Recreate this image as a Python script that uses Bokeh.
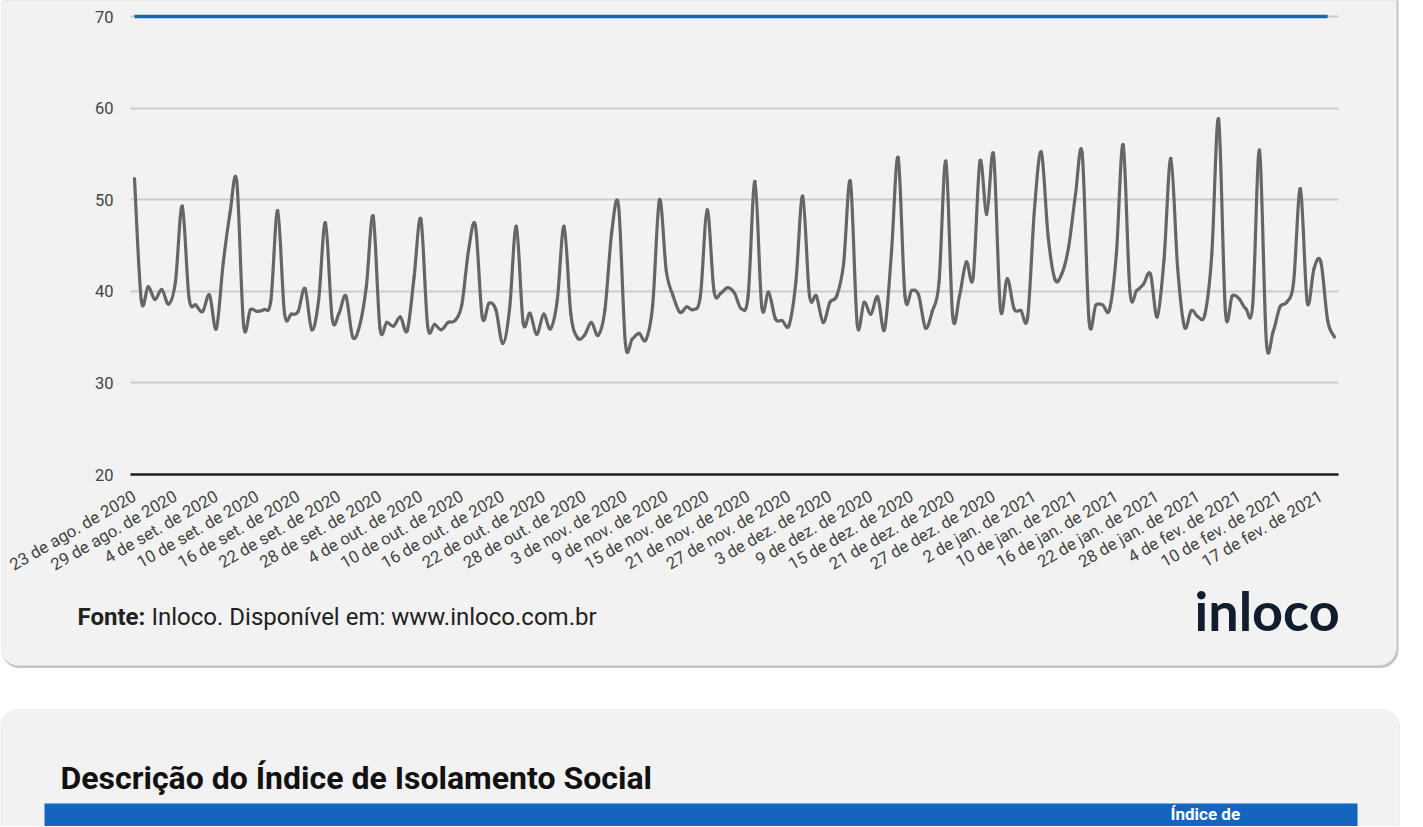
import math
from bokeh.plotting import figure
from bokeh.models import (Range1d, FixedTicker, Label, BoxAnnotation, ColumnDataSource,
                          LinearAxis, Grid)
from bokeh.embed import file_html
from bokeh.resources import INLINE

# Índice de isolamento social (%), um valor por dia exibido
indice = [
    52.3, 39.0, 40.5, 39.1, 40.2, 38.6, 41.0, 49.3, 39.3, 38.5,
    37.8, 39.6, 35.9, 43.0, 48.5, 52.0, 36.3, 38.0, 37.8, 38.0,
    39.0, 48.8, 37.6, 37.5, 37.8, 40.3, 35.8, 39.0, 47.5, 37.0,
    37.6, 39.5, 35.0, 36.2, 40.5, 48.2, 36.0, 36.6, 36.2, 37.2,
    35.7, 41.5, 47.9, 36.2, 36.4, 35.8, 36.6, 36.8, 38.5, 44.5,
    47.2, 37.2, 38.7, 38.0, 34.3, 38.0, 47.1, 36.6, 37.6, 35.3,
    37.5, 35.9, 39.0, 47.1, 37.5, 34.9, 35.2, 36.6, 35.2, 38.0,
    46.5, 49.3, 34.3, 34.8, 35.4, 34.7, 38.5, 50.0, 42.2, 39.5,
    37.7, 38.3, 38.0, 39.5, 48.9, 40.0, 39.8, 40.4, 39.8, 38.1,
    39.5, 52.0, 38.3, 39.9, 37.0, 36.8, 36.3, 41.0, 50.4, 39.5,
    39.5, 36.6, 38.8, 39.5, 43.0, 52.0, 36.4, 38.8, 37.5, 39.4,
    35.8, 44.0, 54.6, 39.5, 40.1, 39.6, 36.0, 37.8, 41.0, 54.2,
    37.3, 39.5, 43.2, 41.5, 54.2, 48.4, 54.9, 38.1, 41.4, 38.1,
    37.9, 37.2, 49.0, 55.2, 46.0, 41.3, 41.9, 44.8, 50.5, 55.0,
    36.8, 38.5, 38.5, 38.0, 44.0, 56.0, 40.0, 40.1, 40.8, 41.9,
    37.2, 43.5, 54.5, 42.5, 36.1, 37.9, 37.2, 37.5, 44.0, 58.8,
    37.8, 39.5, 39.2, 38.1, 38.5, 55.4, 34.6, 35.6, 38.3, 38.8,
    41.0, 51.2, 38.8, 42.5, 43.2, 36.8, 35.0,
]

# Meta (linha azul)
meta = [70.0] * 176

# Rótulos do eixo X (um a cada 6 dias exibidos)
rotulos = [
    "23 de ago. de 2020", "29 de ago. de 2020", "4 de set. de 2020",
    "10 de set. de 2020", "16 de set. de 2020", "22 de set. de 2020",
    "28 de set. de 2020", "4 de out. de 2020", "10 de out. de 2020",
    "16 de out. de 2020", "22 de out. de 2020", "28 de out. de 2020",
    "3 de nov. de 2020", "9 de nov. de 2020", "15 de nov. de 2020",
    "21 de nov. de 2020", "27 de nov. de 2020", "3 de dez. de 2020",
    "9 de dez. de 2020", "15 de dez. de 2020", "21 de dez. de 2020",
    "27 de dez. de 2020", "2 de jan. de 2021", "10 de jan. de 2021",
    "16 de jan. de 2021", "22 de jan. de 2021", "28 de jan. de 2021",
    "4 de fev. de 2021", "10 de fev. de 2021", "17 de fev. de 2021",
]
passo = 6
y_ticks = [20, 30, 40, 50, 60, 70]

fonte_titulo = "Fonte:"
fonte_texto = "Inloco. Disponível em: www.inloco.com.br"
logo = "inloco"
titulo_card2 = "Descrição do Índice de Isolamento Social"
cabecalho_tabela = "Índice de"

n = len(indice)
xs = list(range(n))

# ---- layout constants (page pixels) ----
W, H = 1416, 826
X0_PX, DX_PX = 134.0, 1200.0 / 176     # pixel of first point, pixels per point
Y20_PX, DY_PX = 474.0, 9.16            # pixel of value 20, pixels per unit


def px2x(px):
    return (px - X0_PX) / DX_PX


def py2y(py):
    return 20 + (Y20_PX - py) / DY_PX


plot_left, plot_right = px2x(130), px2x(1338)


# Smooth line (curveType function) drawn with Bokeh's bezier glyph
def seg_source(x, y):
    m = len(x)
    d = dict(x0=[], y0=[], x1=[], y1=[], cx0=[], cy0=[], cx1=[], cy1=[])
    for i in range(m - 1):
        xp, yp = (x[i - 1], y[i - 1]) if i > 0 else (x[i], y[i])
        xn, yn = (x[i + 2], y[i + 2]) if i + 2 < m else (x[i + 1], y[i + 1])
        d["x0"].append(x[i]); d["y0"].append(y[i])
        d["x1"].append(x[i + 1]); d["y1"].append(y[i + 1])
        d["cx0"].append(x[i] + (x[i + 1] - xp) / 6.0)
        d["cy0"].append(y[i] + (y[i + 1] - yp) / 6.0)
        d["cx1"].append(x[i + 1] - (xn - x[i]) / 6.0)
        d["cy1"].append(y[i + 1] - (yn - y[i]) / 6.0)
    return ColumnDataSource(d)


p = figure(width=W, height=H, output_backend="svg", toolbar_location=None,
           x_range=Range1d(px2x(0), px2x(W)), y_range=Range1d(py2y(H), py2y(0)),
           x_axis_location=None, y_axis_location=None,
           min_border=0, min_border_left=0, min_border_right=0,
           min_border_top=0, min_border_bottom=0)
p.background_fill_color = "#ffffff"
p.border_fill_color = "#ffffff"
p.outline_line_color = None
p.grid.visible = False

has_radius = "border_radius" in BoxAnnotation.properties()


def card(left, right, top, bottom, color, radius=0, line_color=None):
    kw = dict(left=px2x(left), right=px2x(right), top=py2y(top), bottom=py2y(bottom),
              fill_color=color, fill_alpha=1.0, line_color=line_color, level="image")
    if line_color is not None:
        kw["line_width"] = 1.2
    if has_radius and radius:
        kw["border_radius"] = radius
    p.add_layout(BoxAnnotation(**kw))


# cards (background panels)
card(1, 1398, -40, 667.5, "#c4c4c4", 18)          # shadow card 1
card(0, 1396, -40, 665, "#f2f2f2", 18)            # card 1
card(0, 1399, 709, 900, "#f2f2f2", 18, "#dadada")  # card 2
card(44, 1357, 803, 900, "#1565c0")               # table header bar

# grid
if "cross_bounds" in Grid.properties():
    g = Grid(dimension=1, ticker=FixedTicker(ticks=y_ticks), cross_bounds=(plot_left, plot_right),
             grid_line_color="#cccccc", grid_line_width=2)
    p.add_layout(g)
else:
    p.segment(x0=[plot_left] * len(y_ticks), x1=[plot_right] * len(y_ticks),
              y0=y_ticks, y1=y_ticks, line_color="#cccccc", line_width=2, level="underlay")

# series
p.line(list(range(len(meta))), meta, line_color="#1565c0", line_width=3.5)
p.bezier(x0="x0", y0="y0", x1="x1", y1="y1", cx0="cx0", cy0="cy0",
         cx1="cx1", cy1="cy1", source=seg_source(xs, indice),
         line_color="#666666", line_width=3.2, line_cap="round")

# axes pinned inside the frame
xa = LinearAxis(fixed_location=20, bounds=(plot_left, plot_right))
xa.ticker = FixedTicker(ticks=list(range(0, n, passo)))
xa.major_label_overrides = {i * passo: r for i, r in enumerate(rotulos)}
xa.major_label_orientation = math.pi / 6
xa.axis_line_color = "#222222"
xa.axis_line_width = 2.5
xa.major_tick_line_color = None
xa.minor_tick_line_color = None
xa.major_label_text_font = "Roboto"
xa.major_label_text_font_size = "16.8px"
xa.major_label_text_color = "#444444"
xa.major_label_standoff = 14
p.add_layout(xa, "below")

ya = LinearAxis(fixed_location=plot_left)
ya.ticker = FixedTicker(ticks=y_ticks)
ya.axis_line_color = None
ya.major_tick_line_color = None
ya.minor_tick_line_color = None
ya.major_tick_out = 0
ya.major_tick_in = 0
ya.major_label_text_font = "Roboto"
ya.major_label_text_font_size = "16.5px"
ya.major_label_text_color = "#444444"
ya.major_label_standoff = 17
p.add_layout(ya, "left")

BASE_SHIFT = 0.41  # empirical: label anchor vs. visible baseline, in em


def label(px, baseline_py, text, size_px, bold=False, color="#212121", font="Roboto"):
    py = baseline_py - BASE_SHIFT * size_px
    p.add_layout(Label(x=px2x(px), y=py2y(py), text=text, text_font=font,
                       text_font_style="bold" if bold else "normal",
                       text_font_size=f"{size_px}px", text_color=color,
                       text_baseline="alphabetic", text_align="left"))


label(77, 626, fonte_titulo, 24, bold=True)
label(151, 626, fonte_texto, 24)
label(1194, 632.5, logo, 54, bold=True, color="#0f1d2e", font="Lato")
label(60, 791, titulo_card2, 32, bold=True, color="#111111")
label(1170, 820, cabecalho_tabela, 17, bold=True, color="#ffffff")

open("out.html", "w").write(file_html(p, INLINE))
